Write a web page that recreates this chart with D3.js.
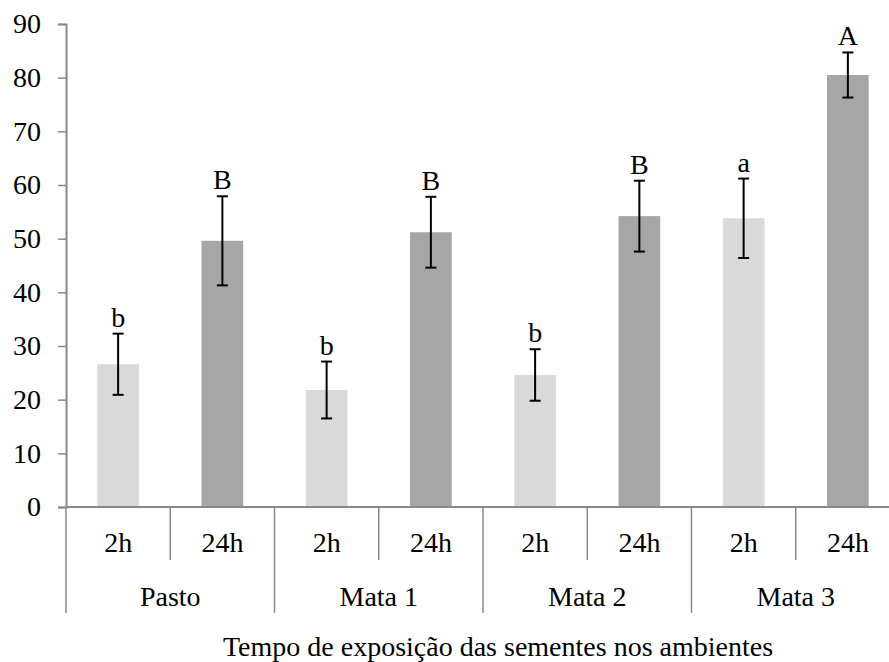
<!DOCTYPE html>
<html>
<head>
<meta charset="utf-8">
<script src="https://cdn.jsdelivr.net/npm/d3@7"></script>
<style>
  body { margin: 0; background: #fff; }
</style>
</head>
<body>
<svg id="chart"></svg>
<script>
// data
const ambientes = ['Pasto', 'Mata 1', 'Mata 2', 'Mata 3'];
const tempos = ['2h', '24h'];
const medias2h = [26.6, 21.8, 24.6, 53.8];
const medias24h = [49.6, 51.2, 54.2, 80.5];
const erro2h = [5.7, 5.3, 4.8, 7.4];
const erro24h = [8.3, 6.6, 6.6, 4.2];
const letras2h = ['b', 'b', 'b', 'a'];
const letras24h = ['B', 'B', 'B', 'A'];
const yTicks = [0, 10, 20, 30, 40, 50, 60, 70, 80, 90];

const width = 889;
const height = 662;
const margin = { top: 24, left: 66, right: -11, bottom: 155 };
const x0 = margin.left;
const x1 = width - margin.right;
const yBottom = height - margin.bottom;

const colors = { '2h': '#d9d9d9', '24h': '#a6a6a6' };
const axisColor = '#898989';
const fontSize = 28;
const serif = '"Liberation Serif", "Times New Roman", Times, serif';

const data = [];
ambientes.forEach((a, i) => {
  data.push({ amb: a, t: '2h', v: medias2h[i], e: erro2h[i], l: letras2h[i] });
  data.push({ amb: a, t: '24h', v: medias24h[i], e: erro24h[i], l: letras24h[i] });
});

const svg = d3.select('#chart')
  .attr('width', width)
  .attr('height', height)
  .attr('font-family', serif);

const xOuter = d3.scaleBand()
  .domain(ambientes)
  .range([x0, x1]);

const xInner = d3.scaleBand()
  .domain(tempos)
  .range([0, xOuter.bandwidth()])
  .paddingInner(0.6)
  .paddingOuter(0.3);

const yScale = d3.scaleLinear()
  .domain([0, 90])
  .range([yBottom, margin.top]);

// y axis
const yAxis = d3.axisLeft(yScale)
  .tickValues(yTicks)
  .tickSize(8)
  .tickPadding(17)
  .tickFormat(d3.format('d'));

const gy = svg.append('g')
  .attr('transform', `translate(${x0},0)`)
  .call(yAxis)
  .attr('font-family', serif)
  .attr('font-size', fontSize);
gy.select('.domain').attr('stroke', axisColor).attr('stroke-width', 2);
gy.selectAll('.tick line').attr('stroke', axisColor).attr('stroke-width', 1.5);
gy.selectAll('.tick text')
  .style('font-family', serif)
  .style('font-size', fontSize + 'px')
  .attr('fill', '#000');

// bars
const g = svg.append('g');
const barX = d => xOuter(d.amb) + xInner(d.t);
const barCx = d => barX(d) + xInner.bandwidth() / 2;

g.selectAll('rect')
  .data(data)
  .enter()
  .append('rect')
  .attr('x', barX)
  .attr('y', d => yScale(d.v))
  .attr('width', xInner.bandwidth())
  .attr('height', d => yBottom - yScale(d.v))
  .attr('fill', d => colors[d.t]);

// error bars
const capW = 5.5;
const err = g.selectAll('.err')
  .data(data)
  .enter()
  .append('g')
  .attr('class', 'err')
  .attr('stroke', '#000')
  .attr('stroke-width', 2);

err.append('line')
  .attr('x1', barCx).attr('x2', barCx)
  .attr('y1', d => yScale(d.v + d.e))
  .attr('y2', d => yScale(d.v - d.e));
err.append('line')
  .attr('x1', d => barCx(d) - capW).attr('x2', d => barCx(d) + capW)
  .attr('y1', d => yScale(d.v + d.e)).attr('y2', d => yScale(d.v + d.e));
err.append('line')
  .attr('x1', d => barCx(d) - capW).attr('x2', d => barCx(d) + capW)
  .attr('y1', d => yScale(d.v - d.e)).attr('y2', d => yScale(d.v - d.e));

// letters
g.selectAll('.letra')
  .data(data)
  .enter()
  .append('text')
  .attr('class', 'letra')
  .attr('x', barCx)
  .attr('y', d => yScale(d.v + d.e) - 7)
  .attr('text-anchor', 'middle')
  .style('font-family', serif)
  .style('font-size', fontSize + 'px')
  .text(d => d.l);

// x axis line
svg.append('line')
  .attr('x1', x0).attr('x2', x1)
  .attr('y1', yBottom).attr('y2', yBottom)
  .attr('stroke', axisColor)
  .attr('stroke-width', 2);

// separators
const shortLen = 53;
const longLen = 106;
ambientes.forEach(a => {
  svg.append('line')
    .attr('x1', xOuter(a)).attr('x2', xOuter(a))
    .attr('y1', yBottom).attr('y2', yBottom + longLen)
    .attr('stroke', axisColor).attr('stroke-width', 1.5);
  const mid = xOuter(a) + xOuter.bandwidth() / 2;
  svg.append('line')
    .attr('x1', mid).attr('x2', mid)
    .attr('y1', yBottom).attr('y2', yBottom + shortLen)
    .attr('stroke', axisColor).attr('stroke-width', 1.5);
});

// tick labels for time
svg.selectAll('.tempo')
  .data(data)
  .enter()
  .append('text')
  .attr('class', 'tempo')
  .attr('x', d => xOuter(d.amb) + (d.t === '2h' ? 0.25 : 0.75) * xOuter.bandwidth())
  .attr('y', yBottom + 45)
  .attr('text-anchor', 'middle')
  .style('font-family', serif)
  .style('font-size', fontSize + 'px')
  .text(d => d.t);

svg.selectAll('.amb')
  .data(ambientes)
  .enter()
  .append('text')
  .attr('class', 'amb')
  .attr('x', d => xOuter(d) + xOuter.bandwidth() / 2)
  .attr('y', yBottom + 99)
  .attr('text-anchor', 'middle')
  .style('font-family', serif)
  .style('font-size', fontSize + 'px')
  .text(d => d);

// axis title
svg.append('text')
  .attr('x', 498)
  .attr('y', 656)
  .attr('text-anchor', 'middle')
  .style('font-family', serif)
  .style('font-size', fontSize + 'px')
  .text('Tempo de exposição das sementes nos ambientes');
</script>
</body>
</html>
